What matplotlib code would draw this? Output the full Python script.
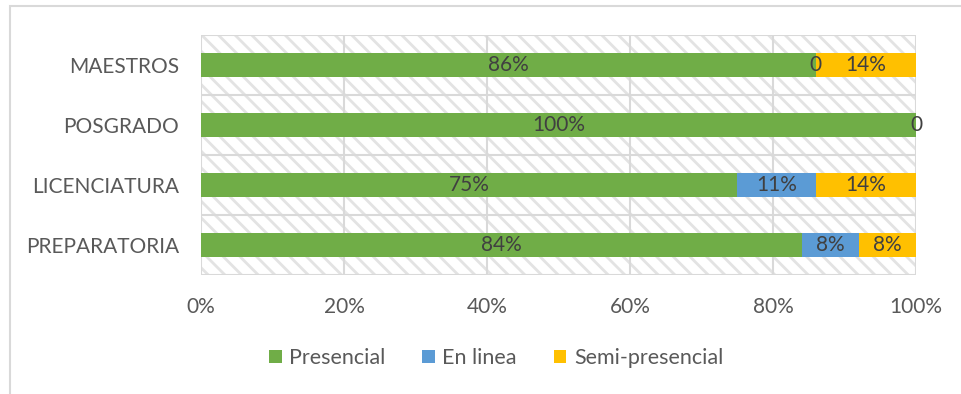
import matplotlib.pyplot as plt
from matplotlib.patches import Rectangle
import numpy as np

categories = ["PREPARATORIA", "LICENCIATURA", "POSGRADO", "MAESTROS"]
presencial = [84, 75, 100, 86]
en_linea = [8, 11, 0, 0]
semi = [8, 14, 0, 14]
series_names = ["Presencial", "En linea", "Semi-presencial"]
colors = ["#70AD47", "#5B9BD5", "#FFC000"]
xticks = [0, 20, 40, 60, 80, 100]

plt.rcParams['font.family'] = ['Lato', 'DejaVu Sans']
plt.rcParams['hatch.linewidth'] = 2.0
plt.rcParams['hatch.color'] = '#e3e3e3'

fig = plt.figure(figsize=(9.61, 3.94), dpi=100)
ax = fig.add_axes([201 / 961, 1 - 275 / 394, 715 / 961, 240 / 394])

# chart border
fig.patches.append(Rectangle((10 / 961, -0.1), 1.0, 1 - 6 / 394 + 0.1,
                             transform=fig.transFigure, fill=False,
                             edgecolor='#d9d9d9', linewidth=1.5))

# hatched background
ax.add_patch(Rectangle((0, 0), 1, 1, transform=ax.transAxes, facecolor='white',
                       hatch='\\\\', edgecolor='#e3e3e3', linewidth=0, zorder=0))

y = np.arange(len(categories))
left = np.zeros(len(categories))
for vals, name, col in zip([presencial, en_linea, semi], series_names, colors):
    vals = np.array(vals, dtype=float)
    bars = ax.barh(y, vals, left=left, height=0.4, color=col, label=name, zorder=3)
    for b, v in zip(bars, vals):
        if name == "Semi-presencial" and v == 0:
            continue
        txt = "0" if v == 0 else f"{int(v)}%"
        ax.text(b.get_x() + b.get_width() / 2, b.get_y() + b.get_height() / 2, txt,
                ha='center', va='center', fontsize=15, color='#404040', zorder=4)
    left += vals

ax.set_xlim(0, 100)
ax.set_ylim(-0.5, len(categories) - 0.5)
ax.set_xticks(xticks)
ax.set_xticklabels([f"{t}%" for t in xticks])
ax.set_yticks(y)
ax.set_yticklabels(categories)
for yy in np.arange(-0.5, len(categories), 1):
    ax.axhline(yy, color='#d9d9d9', linewidth=1.5, zorder=1)
ax.xaxis.grid(True, color='#d9d9d9', linewidth=1.5, zorder=1)
ax.set_axisbelow(True)
for s in ax.spines.values():
    s.set_visible(False)
ax.tick_params(length=0, labelsize=15, labelcolor='#595959')
ax.tick_params(axis='x', pad=16)
ax.tick_params(axis='y', pad=16)

fig.legend(loc='center', bbox_to_anchor=(496 / 961, 1 - 358 / 394), ncol=3,
           frameon=False, fontsize=15.5, handlelength=0.6, handleheight=0.6,
           handletextpad=0.35, columnspacing=1.7, labelcolor='#595959')

fig.savefig("out.png", dpi=100)
